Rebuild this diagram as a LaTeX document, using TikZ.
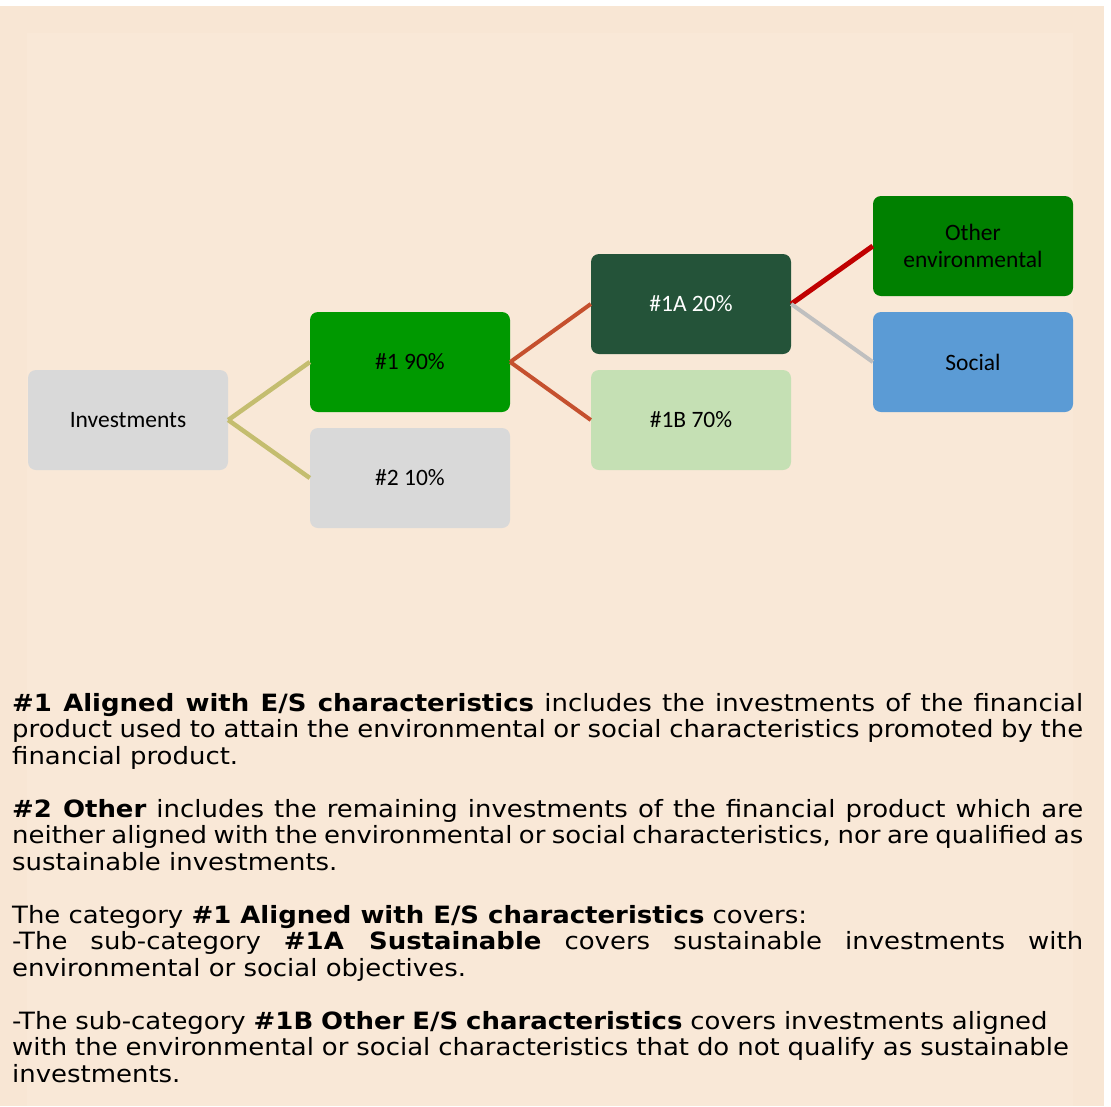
\documentclass[tikz,border=0pt]{standalone}
\usepackage{fontspec}
\setmainfont{Carlito}
\newfontfamily\bodyfont[FakeStretch=1.09]{DejaVu Sans}
\definecolor{pagebg}{HTML}{F8E6D4}
\definecolor{innerbg}{HTML}{F9E8D7}
\definecolor{boxgrey}{HTML}{D9D9D9}
\definecolor{alignedgreen}{HTML}{009900}
\definecolor{sustgreen}{HTML}{245339}
\definecolor{otherlight}{HTML}{C5E0B4}
\definecolor{envgreen}{HTML}{008000}
\definecolor{socialblue}{HTML}{5B9BD5}
\definecolor{linkolive}{HTML}{C4BD6F}
\definecolor{linkorange}{HTML}{C5502E}
\definecolor{linkred}{HTML}{C00000}
\definecolor{linkgrey}{HTML}{BFBFBF}
\begin{document}
\begin{tikzpicture}[x=1pt,y=-1pt,line cap=butt]
			\tikzset{catbox/.style={rounded corners=8pt,minimum width=200pt,minimum height=100pt,inner sep=0pt,align=center,font=\fontsize{23.5}{27}\selectfont},
				notes/.style={anchor=base west,inner sep=0pt,text width=1071pt,align=justify,font=\bodyfont\fontsize{23.8}{26.5}\selectfont}}
			\useasboundingbox (0,0) rectangle (1111,1106);
			\fill[pagebg] (0,6) rectangle (1104,1106);
			\fill[innerbg] (27,33) rectangle (1073,1106);
			% boxes
			\node[catbox,fill=boxgrey] (inv) at (128,420) {Investments};
			\node[catbox,fill=alignedgreen] (one) at (410,362) {\#1 90\%};
			\node[catbox,fill=boxgrey] (two) at (410,478) {\#2 10\%};
			\node[catbox,fill=sustgreen,text=white] (oneA) at (691,304) {\#1A 20\%};
			\node[catbox,fill=otherlight] (oneB) at (691,420) {\#1B 70\%};
			\node[catbox,fill=envgreen] (env) at (973,246) {Other\\environmental};
			\node[catbox,fill=socialblue] (soc) at (973,362) {Social};
			% connectors
			\foreach \a/\b/\c/\w in {inv/one/linkolive/4.5,inv/two/linkolive/4.5,one/oneA/linkorange/4,one/oneB/linkorange/4,oneA/env/linkred/5,oneA/soc/linkgrey/4}
			\draw[\c,line width=\w pt] (\a.east)--(\b.west);
			% notes
			\node[notes] (noteone) at (12,711) {\textbf{\#1 Aligned with E/S characteristics} includes the investments of the financial\linebreak product used to attain the environmental or social characteristics promoted by the\linebreak financial product.};
			\node[notes] (notetwo) at (12,817) {\textbf{\#2 Other} includes the remaining investments of the financial product which are\linebreak neither aligned with the environmental or social characteristics, nor are qualified as\linebreak sustainable investments.};
			\node[notes] (notethree) at (12,923) {The category \textbf{\#1 Aligned with E/S characteristics} covers:\newline -The sub-category \textbf{\#1A Sustainable} covers sustainable investments with\linebreak environmental or social objectives.};
			\node[notes,align=left] (notefour) at (12,1029) {-The sub-category \textbf{\#1B Other E/S characteristics} covers investments aligned\\ with the environmental or social characteristics that do not qualify as sustainable\\ investments.};
		\end{tikzpicture}
\end{document}
